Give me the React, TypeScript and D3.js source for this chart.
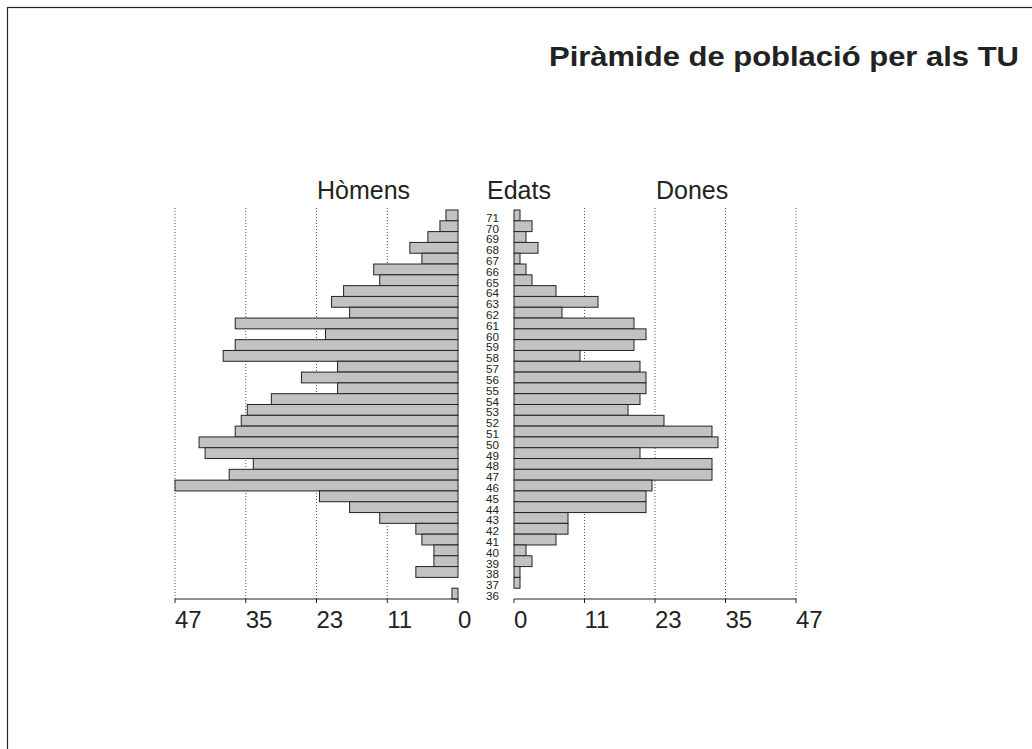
import React from "react";
import * as d3 from "d3";

const ages = [71, 70, 69, 68, 67, 66, 65, 64, 63, 62, 61, 60, 59, 58, 57, 56, 55, 54, 53, 52, 51, 50, 49, 48, 47, 46, 45, 44, 43, 42, 41, 40, 39, 38, 37, 36];
const homens = [2, 3, 5, 8, 6, 14, 13, 19, 21, 18, 37, 22, 37, 39, 20, 26, 20, 31, 35, 36, 37, 43, 42, 34, 38, 47, 23, 18, 13, 7, 6, 4, 4, 7, 0, 1];
const dones = [1, 3, 2, 4, 1, 2, 3, 7, 14, 8, 20, 22, 20, 11, 21, 22, 22, 21, 19, 25, 33, 34, 21, 33, 33, 23, 22, 22, 9, 9, 7, 2, 3, 1, 1, 0];
const tickLabels = ["0", "11", "23", "35", "47"];
const maxValue = 47;
const title = "Piràmide de població per als TU";

const FONT = "'Liberation Sans', Arial, Helvetica, sans-serif";

export default function App() {
  const W = 1032;
  const H = 749;
  const top = 210;
  const bottom = 599;
  const y = d3.scaleBand<number>().domain(ages).range([top, bottom]).padding(0);
  const xL = d3.scaleLinear().domain([0, maxValue]).range([458, 175]);
  const xR = d3.scaleLinear().domain([0, maxValue]).range([514, 796]);
  const tickVals = tickLabels.map((_, i) => (i * maxValue) / (tickLabels.length - 1));
  const bw = y.bandwidth();

  return (
    <svg width={W} height={H} style={{ position: "absolute", left: 0, top: 0 }} fontFamily={FONT}>
      <rect x={0} y={0} width={W} height={H} fill="#fff" />
      <rect x={7.5} y={7.5} width={W + 50} height={H + 50} fill="none" stroke="#222" strokeWidth={1.2} />
      <text x={549} y={66} fontWeight="bold" fontSize={28} fill="#222"
        textLength={470} lengthAdjust="spacingAndGlyphs">{title}</text>

      <text x={317} y={199} fontSize={25} fill="#222">Hòmens</text>
      <text x={487} y={199} fontSize={25} fill="#222">Edats</text>
      <text x={656} y={199} fontSize={25} fill="#222">Dones</text>

      {tickVals.filter((v) => v > 0).map((v, i) => (
        <g key={"g" + i}>
          <line x1={xL(v)} x2={xL(v)} y1={208} y2={bottom} stroke="#555" strokeDasharray="1,2" strokeWidth={1} />
          <line x1={xR(v)} x2={xR(v)} y1={208} y2={bottom} stroke="#555" strokeDasharray="1,2" strokeWidth={1} />
        </g>
      ))}

      {ages.map((a, i) => (
        <rect key={"m" + a} x={xL(homens[i])} y={y(a)} width={xL(0) - xL(homens[i])} height={bw}
          fill="#c2c2c2" stroke="#222" strokeWidth={1} />
      ))}
      {ages.map((a, i) => (
        <rect key={"f" + a} x={xR(0)} y={y(a)} width={xR(dones[i]) - xR(0)} height={bw}
          fill="#c2c2c2" stroke="#222" strokeWidth={1} />
      ))}

      {ages.map((a) => (
        <text key={"a" + a} x={486} y={(y(a) as number) + bw + 1} fontSize={11} fill="#222"
          textLength={13} lengthAdjust="spacingAndGlyphs">{a}</text>
      ))}

      <line x1={xL(maxValue)} x2={xL(0)} y1={bottom} y2={bottom} stroke="#222" strokeWidth={1.2} />
      <line x1={xR(0)} x2={xR(maxValue)} y1={bottom} y2={bottom} stroke="#222" strokeWidth={1.2} />
      {tickVals.map((v, i) => (
        <g key={"t" + i}>
          <line x1={xL(v)} x2={xL(v)} y1={bottom} y2={bottom + 4} stroke="#222" strokeWidth={1} />
          <line x1={xR(v)} x2={xR(v)} y1={bottom} y2={bottom + 4} stroke="#222" strokeWidth={1} />
          <text x={xL(v)} y={628} fontSize={24} fill="#222">{tickLabels[i]}</text>
          <text x={xR(v)} y={628} fontSize={24} fill="#222">{tickLabels[i]}</text>
        </g>
      ))}
    </svg>
  );
}
